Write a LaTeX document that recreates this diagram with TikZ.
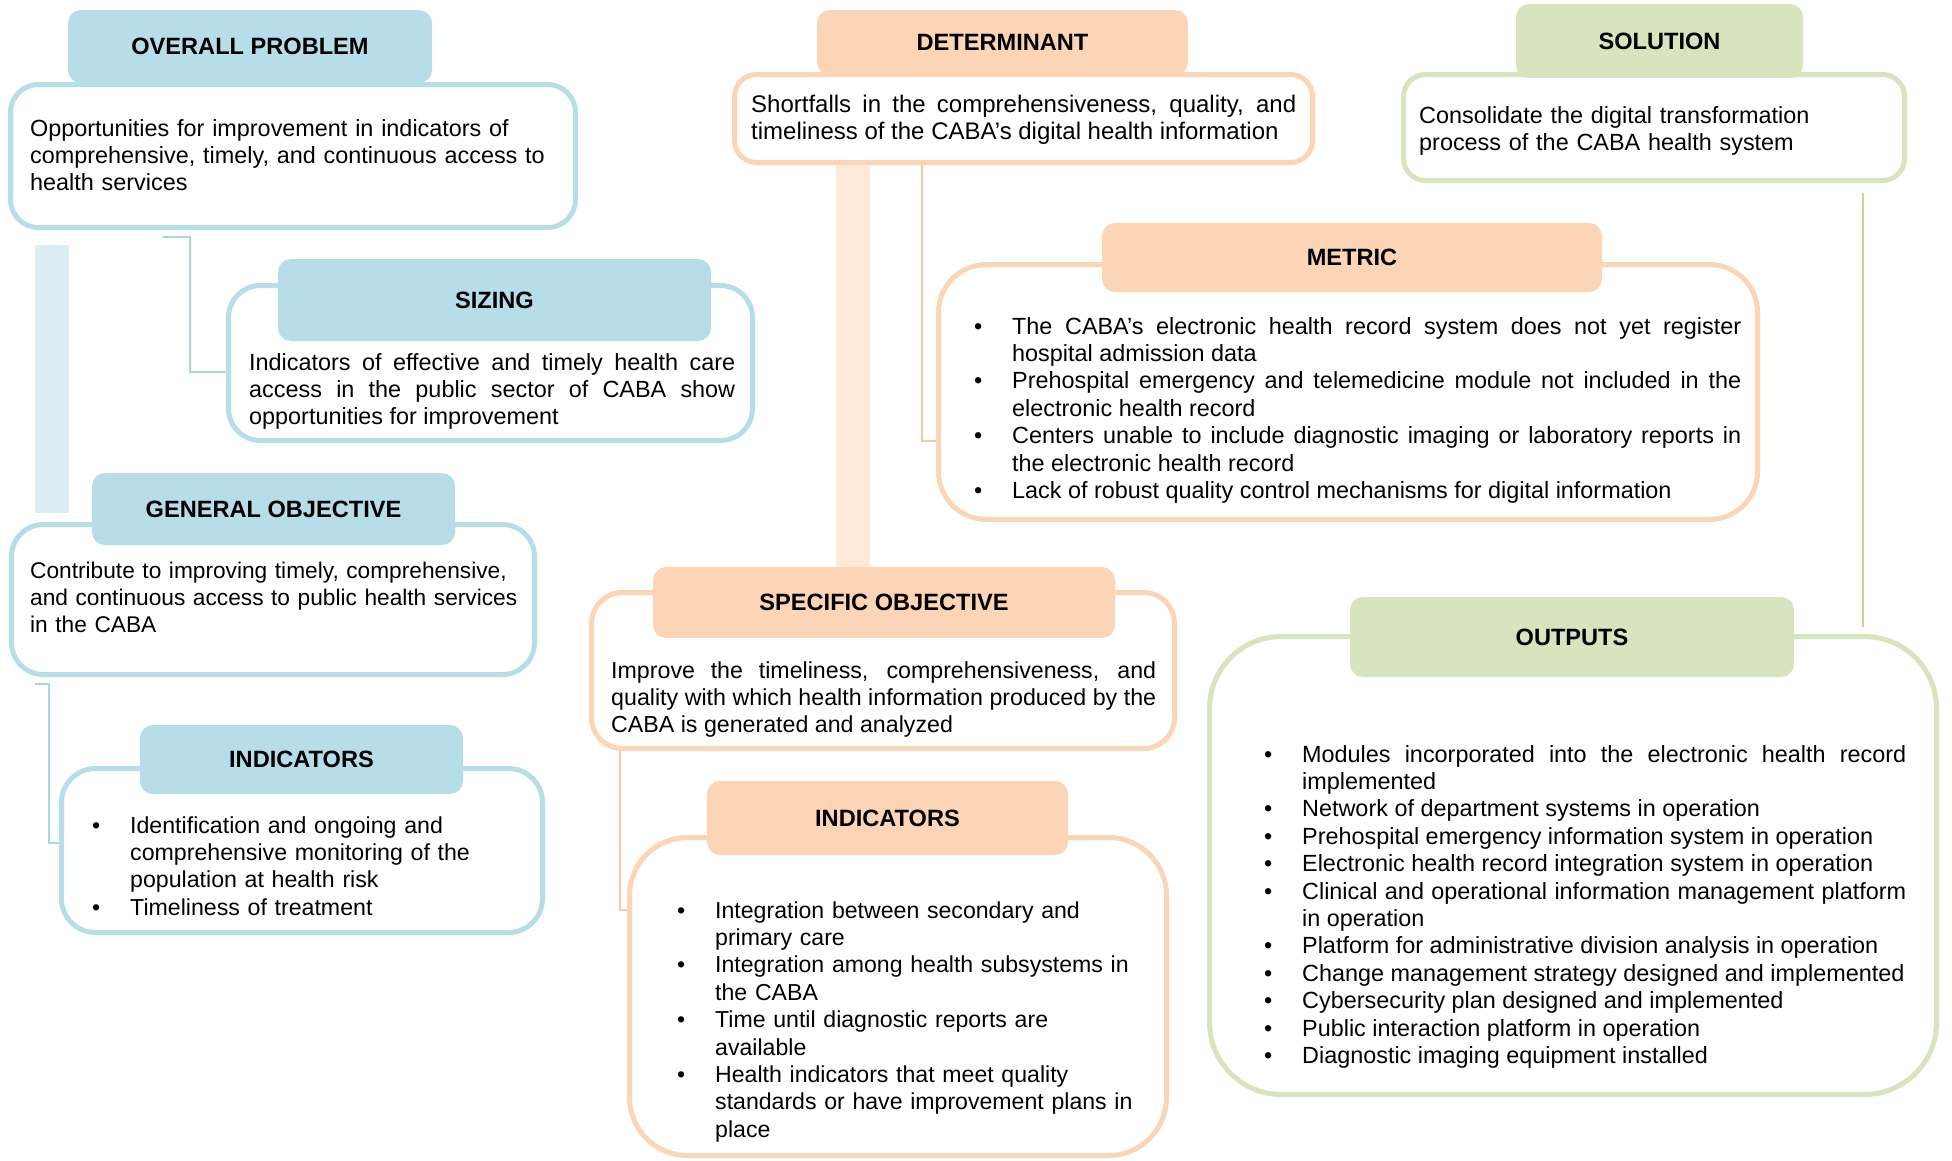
\documentclass[tikz,border=0pt]{standalone}
\usepackage{fontspec}
\setmainfont{Liberation Sans}
\pgfdeclarelayer{back}
\pgfsetlayers{back,main}
\definecolor{blueH}{HTML}{B7DDE8}
\definecolor{blueBar}{HTML}{DAEEF3}
\definecolor{blueLn}{HTML}{A9D6E3}
\definecolor{orH}{HTML}{FBD5B5}
\definecolor{orBar}{HTML}{FDE9D9}
\definecolor{orLn}{HTML}{F9C9A3}
\definecolor{grH}{HTML}{D7E4BD}
\definecolor{grLn}{HTML}{C3D69B}
\newcommand\bodyfontat[1]{\fontsize{#1}{27.4}\selectfont\hyphenpenalty=10000\tolerance=9999\parindent=0pt}
\newcommand\headfont{\fontsize{23.6}{27.4}\selectfont\bfseries}
\newlength\bind
\setlength\bind{38pt}
\newcommand\bitem[1]{\noindent\hangindent=\bind\hangafter=1\hbox to\bind{\textbullet\hfil}#1\par}
\tikzset{
  panel/.style={draw, line width=5pt, fill=white, inner sep=0pt},
  head/.style={inner sep=0pt, rounded corners=13pt, font=\headfont, text=black},
  body/.style={inner sep=0pt, anchor=base west, font=\bodyfontat{23.4}, align=left},
  jbody/.style={body, align=justify},
  fs/.style={font=\bodyfontat{#1}},
  lnk/.style={line width=2pt},
}
\begin{document}
\begin{tikzpicture}[x=1pt,y=-1pt]
\useasboundingbox (0,0) rectangle (1952,1160);
% ---------- panels ----------
\node[panel, draw=blueH, rounded corners=28pt, minimum width=565pt, minimum height=143pt] (opBox) at (293,156) {};
\node[panel, draw=blueH, rounded corners=32pt, minimum width=524pt, minimum height=155pt] (szBox) at (490.5,363) {};
\node[panel, draw=blueH, rounded corners=32pt, minimum width=523pt, minimum height=150pt] (goBox) at (273,599.5) {};
\node[panel, draw=blueH, rounded corners=34pt, minimum width=481pt, minimum height=164pt] (biBox) at (302,850.5) {};
\node[panel, draw=orH, rounded corners=22pt, minimum width=578pt, minimum height=88pt] (detBox) at (1023.5,118.5) {};
\node[panel, draw=orH, rounded corners=48pt, minimum width=819pt, minimum height=255pt] (metBox) at (1348,392) {};
\node[panel, draw=orH, rounded corners=31pt, minimum width=583pt, minimum height=156pt] (soBox) at (883,670.5) {};
\node[panel, draw=orH, rounded corners=58pt, minimum width=537pt, minimum height=318pt] (oiBox) at (898,996.5) {};
\node[panel, draw=grH, rounded corners=22pt, minimum width=501pt, minimum height=106pt] (solBox) at (1654,127.5) {};
\node[panel, draw=grH, rounded corners=72pt, minimum width=727pt, minimum height=458pt] (outBox) at (1573,865.5) {};
% ---------- headers ----------
\node[head, fill=blueH, minimum width=364pt, minimum height=73pt] (opHead) at (250,46.5) {OVERALL PROBLEM};
\node[head, fill=blueH, minimum width=433pt, minimum height=82pt] (szHead) at (494.5,300) {SIZING};
\node[head, fill=blueH, minimum width=363pt, minimum height=72pt] (goHead) at (273.5,509) {GENERAL OBJECTIVE};
\node[head, fill=blueH, minimum width=323pt, minimum height=69pt] (biHead) at (301.5,759.5) {INDICATORS};
\node[head, fill=orH, minimum width=371pt, minimum height=65pt] (detHead) at (1002.5,42.5) {DETERMINANT};
\node[head, fill=orH, minimum width=500pt, minimum height=69pt] (metHead) at (1352,257.5) {METRIC};
\node[head, fill=orH, minimum width=462pt, minimum height=71pt] (soHead) at (884,602.5) {SPECIFIC OBJECTIVE};
\node[head, fill=orH, minimum width=361pt, minimum height=74pt] (oiHead) at (887.5,818) {INDICATORS};
\node[head, fill=grH, minimum width=287pt, minimum height=74pt] (solHead) at (1659.5,41) {SOLUTION};
\node[head, fill=grH, minimum width=444pt, minimum height=80pt] (outHead) at (1572,637) {OUTPUTS};
% ---------- texts ----------
\node[body, text width=545pt] (opText) at (30,136) {Opportunities for improvement in indicators of\linebreak comprehensive, timely, and continuous access to\linebreak health services};
\node[jbody, text width=486pt] (szText) at (249,370) {Indicators of effective and timely health care\linebreak access in the public sector of CABA show\linebreak opportunities for improvement};
\node[body, fs=22.7, text width=520pt] (goText) at (30,578) {Contribute to improving timely, comprehensive,\linebreak and continuous access to public health services\linebreak in the CABA};
\node[body, fs=23.15, text width=440pt] (biText) at (92,833) {\bitem{Identification and ongoing and\linebreak comprehensive monitoring of the\linebreak population at health risk}\bitem{Timeliness of treatment}};
\node[jbody, fs=24, text width=545pt] (detText) at (751,112) {Shortfalls in the comprehensiveness, quality, and\linebreak timeliness of the CABA’s digital health information};
\node[jbody, text width=767pt] (metText) at (974,334) {\bitem{The CABA’s electronic health record system does not yet register\linebreak hospital admission data}\bitem{Prehospital emergency and telemedicine module not included in the\linebreak electronic health record}\bitem{Centers unable to include diagnostic imaging or laboratory reports in\linebreak the electronic health record}\bitem{Lack of robust quality control mechanisms for digital information}};
\node[jbody, fs=23.2, text width=545pt] (soText) at (611,678) {Improve the timeliness, comprehensiveness, and\linebreak quality with which health information produced by the\linebreak CABA is generated and analyzed};
\node[body, fs=23.1, text width=480pt] (oiText) at (677,918) {\bitem{Integration between secondary and\linebreak primary care}\bitem{Integration among health subsystems in\linebreak the CABA}\bitem{Time until diagnostic reports are\linebreak available}\bitem{Health indicators that meet quality\linebreak standards or have improvement plans in\linebreak place}};
\node[body, text width=420pt] (solText) at (1419,123) {Consolidate the digital transformation\linebreak process of the CABA health system};
\node[jbody, text width=642pt] (outText) at (1264,762) {\bitem{Modules incorporated into the electronic health record\linebreak implemented}\bitem{Network of department systems in operation}\bitem{Prehospital emergency information system in operation}\bitem{Electronic health record integration system in operation}\bitem{Clinical and operational information management platform\linebreak in operation}\bitem{Platform for administrative division analysis in operation}\bitem{Change management strategy designed and implemented}\bitem{Cybersecurity plan designed and implemented}\bitem{Public interaction platform in operation}\bitem{Diagnostic imaging equipment installed}};
% ---------- connectors ----------
\coordinate (c1) at (163,237);
\coordinate (c2) at (35,684);
\coordinate (g1) at (1863,193);
\coordinate (g2) at (1863,627);
\begin{pgfonlayer}{back}
\fill[white] (0,0) rectangle (1952,1160);
\fill[blueBar] (35,245) rectangle (69,513);
\fill[orBar] (836,165) rectangle (870,567);
\draw[lnk, blueLn] (c1) -- (c1 -| 190,0) |- (szBox.west |- 0,372);
\draw[lnk, blueLn] (c2) -- (c2 -| 49,0) |- (biBox.west |- 0,843);
\draw[lnk, orLn] (detBox.south -| 922,0) |- (metBox.west |- 0,441);
\draw[lnk, orLn] (soBox.south -| 620,0) |- (oiBox.west |- 0,910);
\draw[lnk, grLn] (g1) -- (g2);
\end{pgfonlayer}
\end{tikzpicture}
\end{document}
